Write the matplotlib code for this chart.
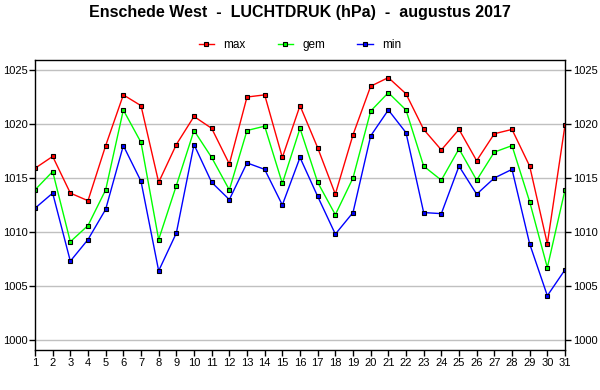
import numpy as np
import matplotlib
matplotlib.use('Agg')
import matplotlib.pyplot as plt

plt.rcParams['font.family'] = ['Liberation Sans', 'DejaVu Sans']

# daily air pressure, Enschede West, August 2017
days = list(range(1, 32))
p_max = [1015.9, 1017.0, 1013.6, 1012.9, 1018.0, 1022.7, 1021.7, 1014.6, 1018.1, 1020.7,
         1019.6, 1016.3, 1022.5, 1022.7, 1016.9, 1021.7, 1017.8, 1013.5, 1019.0, 1023.5,
         1024.3, 1022.8, 1019.5, 1017.6, 1019.5, 1016.6, 1019.1, 1019.5, 1016.1, 1008.9,
         1019.9]
p_gem = [1013.9, 1015.6, 1009.1, 1010.6, 1013.9, 1021.3, 1018.3, 1009.3, 1014.3, 1019.4,
         1016.9, 1013.9, 1019.4, 1019.8, 1014.5, 1019.6, 1014.6, 1011.6, 1015.0, 1021.2,
         1022.9, 1021.3, 1016.1, 1014.8, 1017.7, 1014.8, 1017.4, 1018.0, 1012.8, 1006.7,
         1013.9]
p_min = [1012.2, 1013.6, 1007.3, 1009.3, 1012.1, 1018.0, 1014.7, 1006.4, 1009.9, 1018.1,
         1014.6, 1013.0, 1016.4, 1015.8, 1012.5, 1016.9, 1013.3, 1009.8, 1011.8, 1018.9,
         1021.3, 1019.2, 1011.8, 1011.7, 1016.1, 1013.5, 1015.0, 1015.8, 1008.9, 1004.1,
         1006.5]
y_ticks = [1000, 1005, 1010, 1015, 1020, 1025]

fig = plt.figure(figsize=(6, 3.9), dpi=100)
ax = fig.add_axes([35/600, 1 - 350/390, 530/600, 290/390])

ax.grid(axis='y', color='#c0c0c0', linewidth=1)
ax.set_axisbelow(True)

for vals, col, lab in [(p_max, '#ff0000', 'max'), (p_gem, '#00ff00', 'gem'), (p_min, '#0000ff', 'min')]:
    ax.plot(days, vals, color=col, linewidth=1, marker='s', markersize=3.5,
            markerfacecolor=col, markeredgecolor='black', markeredgewidth=0.8, label=lab)

ax.set_xlim(1, 31)
ax.set_ylim(999.07, 1025.93)
ax.set_xticks(days)
ax.set_yticks(y_ticks)
ax.tick_params(axis='both', labelsize=8, length=4, width=1, direction='out', pad=1.5)
ax.tick_params(axis='y', right=True, labelright=True)
for s in ax.spines.values():
    s.set_linewidth(1)

fig.text(0.5, 1 - 12/390, 'Enschede West  -  LUCHTDRUK (hPa)  -  augustus 2017',
         ha='center', va='center', fontsize=11.5, fontweight='bold')
fig.legend(loc='center', bbox_to_anchor=(0.5, 1 - 45/390), ncol=3, frameon=False,
           fontsize=8.5, handlelength=1.3, columnspacing=2.7, handletextpad=0.8)

fig.savefig('out.png', dpi=100)
